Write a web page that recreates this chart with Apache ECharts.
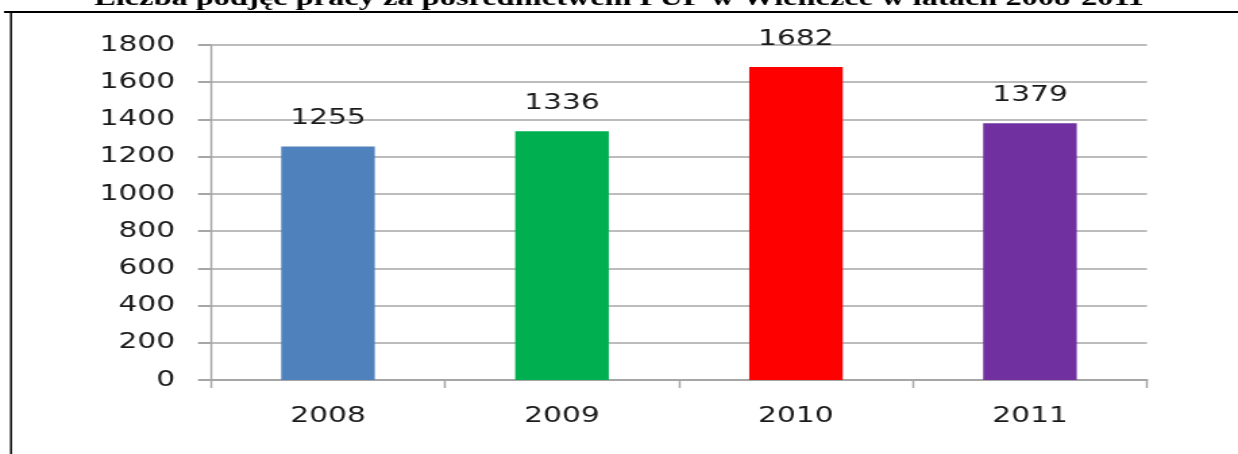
<!DOCTYPE html>
<html><head><meta charset="utf-8">
<script src="https://cdn.jsdelivr.net/npm/echarts@6/dist/echarts.min.js"></script>
<style>
html,body{margin:0;padding:0;background:#fff;overflow:hidden;width:1238px;height:454px;}
#c{width:917px;height:454px;transform:scaleX(1.35);transform-origin:0 0;}
</style>
</head><body><div id="c"></div>
<script>
const titleText = 'Liczba podjęć pracy za pośrednictwem PUP w Wieliczce w latach 2008-2011';
const categories = ['2008', '2009', '2010', '2011'];
const values = [1255, 1336, 1682, 1379];
const barColors = ['#4F81BD', '#00B050', '#FF0000', '#7030A0'];
const yTicks = [0, 200, 400, 600, 800, 1000, 1200, 1400, 1600, 1800];

const S = 1.35; // horizontal stretch of the reference picture
const chart = echarts.init(document.getElementById('c'), null, {renderer: 'canvas'});
const fontFam = '"DejaVu Sans", Verdana, sans-serif';
chart.setOption({
  animation: false,
  graphic: [
    {type: 'text', left: 'center', top: -13, style: {text: titleText, font: 'bold 24px "Liberation Serif", "Times New Roman", serif', fill: '#000'}},
    {type: 'line', shape: {x1: 4 / S, y1: 12, x2: 1238 / S, y2: 12}, style: {stroke: '#000', lineWidth: 2}},
    {type: 'line', shape: {x1: 11 / S, y1: 12, x2: 11 / S, y2: 454}, style: {stroke: '#000', lineWidth: 2 / S}}
  ],
  grid: {left: 211 / S, right: 91 / S, top: 45, bottom: 74},
  xAxis: {
    type: 'category', data: categories,
    axisLine: {lineStyle: {color: '#a6a6a6', width: 2}},
    axisTick: {show: true, length: 8, lineStyle: {color: '#a6a6a6', width: 2 / S}},
    axisLabel: {color: '#1a1a1a', fontSize: 22, fontFamily: fontFam, margin: 25}
  },
  yAxis: {
    type: 'value', min: yTicks[0], max: yTicks[yTicks.length - 1], interval: 200,
    axisLine: {show: true, lineStyle: {color: '#a6a6a6', width: 2 / S}},
    axisTick: {show: true, length: 13 / S, lineStyle: {color: '#a6a6a6', width: 2}},
    splitLine: {lineStyle: {color: '#a6a6a6', width: 1.5}},
    axisLabel: {color: '#1a1a1a', fontSize: 22, fontFamily: fontFam, margin: 36 / S, formatter: v => String(v)}
  },
  series: [{
    type: 'bar', barWidth: '40%',
    data: values.map((v, i) => ({value: v, itemStyle: {color: barColors[i]}})),
    label: {show: true, position: 'top', distance: 17, color: '#1a1a1a', fontSize: 22, fontFamily: fontFam}
  }]
});
</script></body></html>
